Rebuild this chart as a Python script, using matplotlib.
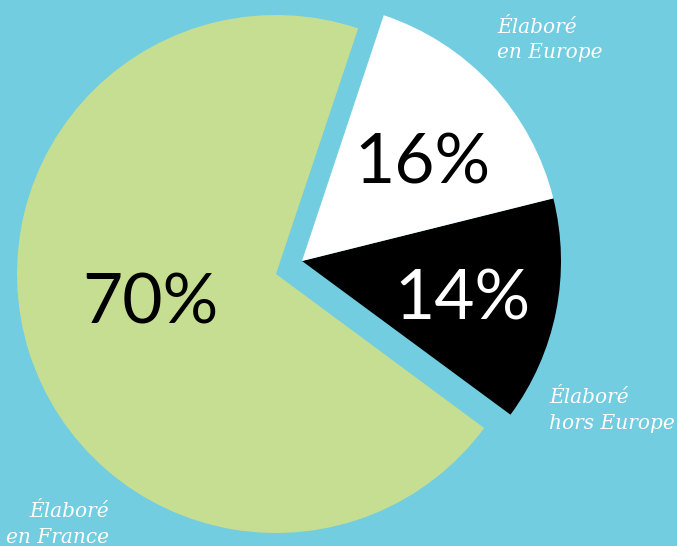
import matplotlib
matplotlib.use("Agg")
import matplotlib.pyplot as plt

# data
categories = ["Élaboré en France", "Élaboré en Europe", "Élaboré hors Europe"]
values = [70, 16, 14]
pct_labels = ["70%", "16%", "14%"]
label_lines = [["Élaboré", "en France"], ["Élaboré", "en Europe"], ["Élaboré", "hors Europe"]]

BG = "#72cde0"
GREEN = "#c6de91"
W, H = 677, 546

fig = plt.figure(figsize=(W / 100, H / 100), dpi=100)
fig.patch.set_facecolor(BG)
ax = fig.add_axes([0, 0, 1, 1])
ax.set_facecolor(BG)

R = 259
total = sum(values)
# green slice (own centre)
ax.pie([values[0] / total], normalize=False, radius=R, center=(276, H - 274),
       startangle=71.5, colors=[GREEN], frame=True,
       wedgeprops=dict(linewidth=0))
# white + black slices (shared, shifted centre)
ax.pie([values[2] / total, values[1] / total], normalize=False, radius=R,
       center=(302, H - 261), startangle=-36.4, colors=["#000000", "#ffffff"],
       frame=True, wedgeprops=dict(linewidth=0))
ax.set_xlim(0, W)
ax.set_ylim(0, H)
ax.set_aspect("equal")
ax.axis("off")

pfont = dict(family="Lato", fontsize=50, ha="center", va="baseline")
ax.text(150, H - 324, pct_labels[0], color="#000000", **pfont)
ax.text(422, H - 183, pct_labels[1], color="#000000", **pfont)
ax.text(462, H - 320, pct_labels[2], color="#ffffff", **pfont)

lfont = dict(family="DejaVu Serif", style="italic", fontsize=14.5, color="white",
             va="baseline")
# France (right aligned)
ax.text(109, H - 517, label_lines[0][0], ha="right", **lfont)
ax.text(109, H - 543, label_lines[0][1], ha="right", **lfont)
# Europe
ax.text(497, H - 33, label_lines[1][0], ha="left", **lfont)
ax.text(497, H - 58, label_lines[1][1], ha="left", **lfont)
# hors Europe
ax.text(549, H - 403, label_lines[2][0], ha="left", **lfont)
ax.text(549, H - 429, label_lines[2][1], ha="left", **lfont)

fig.savefig("out.png", dpi=100, facecolor=BG)
